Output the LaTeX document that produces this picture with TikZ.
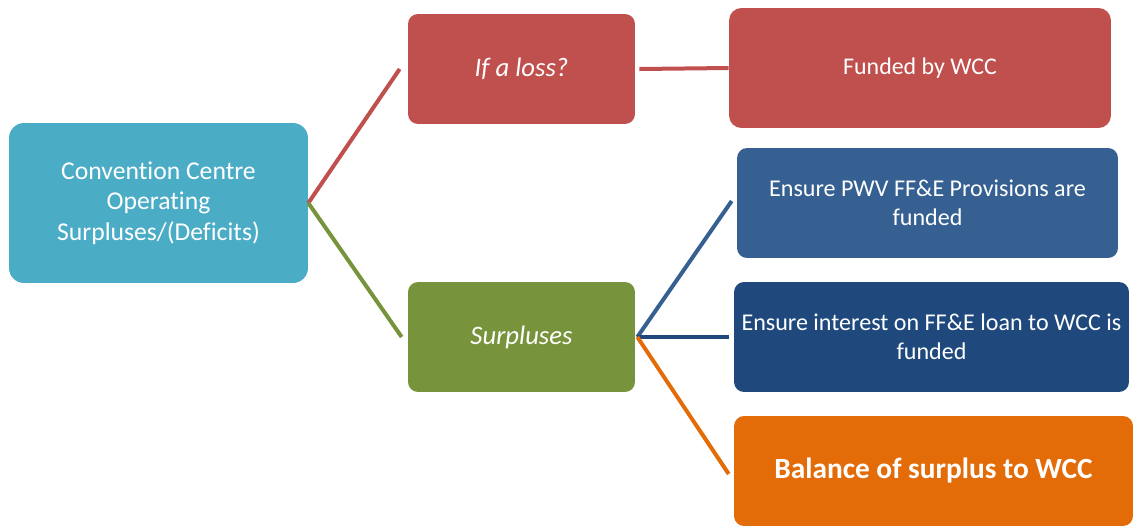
\documentclass[tikz,border=0pt]{standalone}
\usepackage{fontspec}
\setmainfont{Carlito}[Ligatures=NoCommon]

\definecolor{cteal}{HTML}{4BACC6}
\definecolor{cred}{HTML}{C0504D}
\definecolor{cgreen}{HTML}{77933C}
\definecolor{cblue}{HTML}{376092}
\definecolor{cnavy}{HTML}{1F497D}
\definecolor{corange}{HTML}{E36C09}

\begin{document}
\begin{tikzpicture} [
    x=0.02cm, y=-0.02cm,
    block/.style    = { rectangle, draw=none, text=white, align=center,
                        rounded corners=0.2cm, inner sep=2pt },
    line/.style     = { draw, line width=0.08cm },
  ]

  \useasboundingbox (0,0) rectangle (1133,525);

  % Define nodes
  \node[block, fill=cteal, minimum width=5.98cm, minimum height=3.2cm,
        rounded corners=0.3cm, font=\fontsize{14.6}{17.5}\selectfont]
        (main) at (158.5,203) {Convention Centre\\Operating\\Surpluses/(Deficits)};
  \node[block, fill=cred, minimum width=4.54cm, minimum height=2.2cm,
        font=\fontsize{15.2}{17.5}\selectfont\itshape]
        (loss) at (521.5,69) {If a loss?};
  \node[block, fill=cred, minimum width=7.64cm, minimum height=2.4cm,
        rounded corners=0.25cm, font=\fontsize{13.6}{16}\selectfont]
        (funded) at (920,68) {Funded by WCC};
  \node[block, fill=cgreen, minimum width=4.54cm, minimum height=2.2cm,
        font=\fontsize{15.2}{17.5}\selectfont\itshape]
        (surplus) at (521.5,337) {Surpluses};
  \node[block, fill=cblue, minimum width=7.62cm, minimum height=2.2cm,
        font=\fontsize{13.7}{16.5}\selectfont]
        (pwv) at (927.5,203) {Ensure PWV FF\&E Provisions are\\funded};
  \node[block, fill=cnavy, minimum width=7.9cm, minimum height=2.2cm,
        font=\fontsize{13.7}{16.5}\selectfont]
        (interest) at (931.5,337) {Ensure interest on FF\&E loan to WCC is\\funded};
  \node[block, fill=corange, minimum width=7.98cm, minimum height=2.2cm,
        font=\fontsize{16.7}{20}\selectfont\bfseries]
        (balance) at (933.5,471) {Balance of surplus to WCC};

  % connect the nodes
  \path [line, cred] (main.east) -- ([xshift=-0.16cm]loss.west);
  \path [line, cgreen] (main.east) -- ([xshift=-0.12cm]surplus.west);
  \path [line, cred] ([xshift=0.08cm]loss.east) -- (funded.west);
  \path [line, cblue] ([xshift=0.04cm]surplus.east) -- ([xshift=-0.1cm,yshift=0.04cm]pwv.west);
  \path [line, cnavy] ([xshift=0.04cm]surplus.east) -- ([xshift=-0.1cm]interest.west);
  \path [line, corange] ([xshift=0.04cm]surplus.east) -- ([xshift=-0.1cm,yshift=-0.06cm]balance.west);
\end{tikzpicture}
\end{document}
